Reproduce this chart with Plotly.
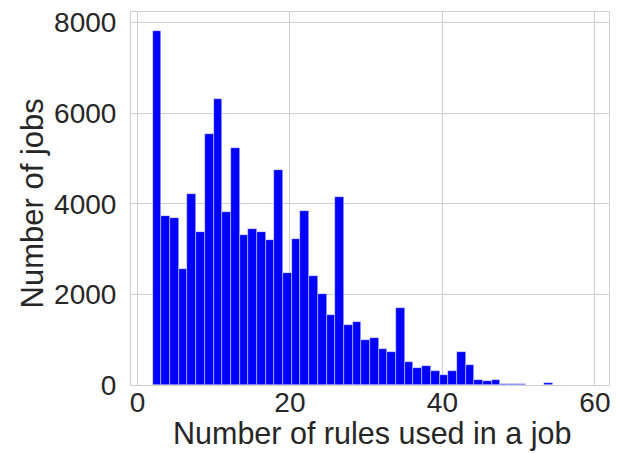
import plotly.graph_objects as go

# Histogram of how many rules each job used: 50 equal bins starting at 2
bin_start = 2.0
bin_width = 1.14
counts = [
    7820, 3730, 3690, 2570, 4220, 3370, 5540, 6320, 3820, 5220,
    3300, 3440, 3380, 3210, 4740, 2480, 3230, 3830, 2400, 2000,
    1550, 4140, 1330, 1380, 1000, 1030, 800, 720, 1690, 500,
    380, 410, 320, 210, 320, 730, 450, 100, 80, 100,
    30, 25, 25, 10, 5, 40, 5, 3, 2, 2,
]

x_ticks = [0, 20, 40, 60]
y_ticks = [0, 2000, 4000, 6000, 8000]
x_title = "Number of rules used in a job"
y_title = "Number of jobs"

centers = [bin_start + (i + 0.5) * bin_width for i in range(len(counts))]

fig = go.Figure(
    go.Bar(
        x=centers,
        y=counts,
        width=bin_width,
        marker=dict(color="#0000ff", line=dict(color="rgba(255,255,255,0.7)", width=0.6)),
    )
)

grid = "#d0d0d0"
font_family = "Liberation Sans, Arial, sans-serif"
text_color = "#262626"

fig.update_layout(
    width=617,
    height=453,
    margin=dict(l=131, r=7, t=8, b=68),
    paper_bgcolor="white",
    plot_bgcolor="white",
    showlegend=False,
    bargap=0,
    font=dict(family=font_family, color=text_color),
)
fig.update_xaxes(
    range=[-0.85, 61.85],
    tickvals=x_ticks,
    ticktext=[str(v) for v in x_ticks],
    tickfont=dict(size=28),
    ticks="",
    ticklabelstandoff=-8,
    showgrid=True,
    gridcolor=grid,
    gridwidth=1,
    zeroline=False,
    showline=True,
    linecolor=grid,
    linewidth=1,
    mirror=True,
)
fig.update_yaxes(
    range=[0, 8230],
    tickvals=y_ticks,
    ticktext=[str(v) for v in y_ticks],
    tickfont=dict(size=28),
    ticks="",
    ticklabelstandoff=8,
    showgrid=True,
    gridcolor=grid,
    gridwidth=1,
    zeroline=False,
    showline=True,
    linecolor=grid,
    linewidth=1,
    mirror=True,
)

# Axis titles placed as paper-anchored annotations
fig.add_annotation(
    text=x_title, xref="paper", yref="paper", x=0.505, y=-0.129,
    xanchor="center", yanchor="middle", showarrow=False,
    font=dict(size=30.5, family=font_family, color=text_color),
)
fig.add_annotation(
    text=y_title, xref="paper", yref="paper", x=-0.207, y=0.487,
    xanchor="center", yanchor="middle", showarrow=False, textangle=-90,
    font=dict(size=31, family=font_family, color=text_color),
)

fig.write_html("out.html")
